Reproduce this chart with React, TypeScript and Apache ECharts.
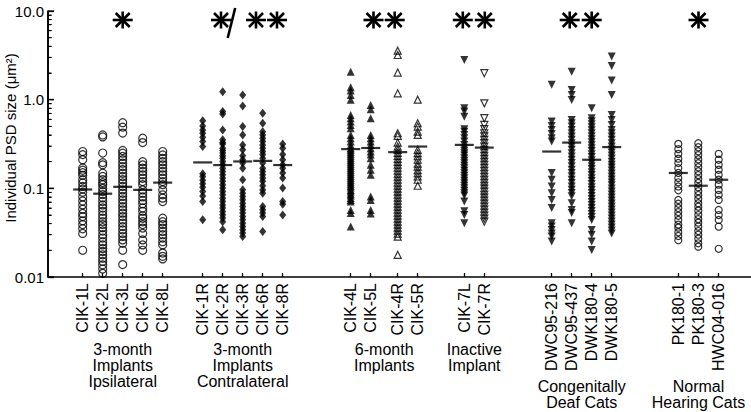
import React, { useEffect, useRef } from 'react';
import * as echarts from 'echarts';

// ---------------- data ----------------
const categories = [
  'CIK-1L', 'CIK-2L', 'CIK-3L', 'CIK-6L', 'CIK-8L',
  'CIK-1R', 'CIK-2R', 'CIK-3R', 'CIK-6R', 'CIK-8R',
  'CIK-4L', 'CIK-5L', 'CIK-4R', 'CIK-5R',
  'CIK-7L', 'CIK-7R',
  'DWC95-216', 'DWC95-437', 'DWK180-4', 'DWK180-5',
  'PK180-1', 'PK180-3', 'HWC04-016',
];

const groupLabels = [
  '3-month\nImplants\nIpsilateral',
  '3-month\nImplants\nContralateral',
  '6-month\nImplants',
  'Inactive\nImplant',
  'Congenitally\nDeaf Cats',
  'Normal\nHearing Cats',
];
const groupMembers = [[0, 1, 2, 3, 4], [5, 6, 7, 8, 9], [10, 11, 12, 13], [14, 15], [16, 17, 18, 19], [20, 21, 22]];
const significance = ['*', '*/**', '**', '**', '**', '*'];

const yTickValues = [0.01, 0.1, 1, 10];
const yTickLabels = ['0.01', '0.1', '1.0', '10.0'];

const means = [0.097, 0.087, 0.104, 0.096, 0.116, 0.196, 0.183, 0.201, 0.204, 0.183, 0.277, 0.285, 0.256, 0.296, 0.309, 0.288, 0.26, 0.328, 0.21, 0.292, 0.149, 0.107, 0.125];

const cik1L = [0.26, 0.24, 0.21, 0.17, 0.16, 0.15, 0.14, 0.125, 0.115, 0.105, 0.098, 0.09, 0.08, 0.072, 0.065, 0.058, 0.052, 0.048, 0.043, 0.039, 0.035, 0.031, 0.02];
const cik2L = [0.4, 0.38, 0.25, 0.195, 0.184, 0.148, 0.136, 0.125, 0.116, 0.11, 0.1, 0.092, 0.085, 0.078, 0.071, 0.065, 0.06, 0.055, 0.05, 0.046, 0.042, 0.039, 0.036, 0.033, 0.03, 0.0275, 0.025, 0.023, 0.021, 0.0194, 0.0178, 0.0163, 0.015, 0.0137, 0.0123, 0.011];
const cik3L = [0.55, 0.49, 0.42, 0.267, 0.249, 0.229, 0.21, 0.192, 0.176, 0.162, 0.148, 0.136, 0.125, 0.115, 0.105, 0.096, 0.088, 0.081, 0.074, 0.068, 0.062, 0.057, 0.0525, 0.048, 0.044, 0.0405, 0.037, 0.034, 0.031, 0.0286, 0.0262, 0.024, 0.02, 0.0138];
const cik6L = [0.367, 0.328, 0.2, 0.184, 0.169, 0.155, 0.142, 0.13, 0.119, 0.11, 0.096, 0.088, 0.08, 0.073, 0.067, 0.06, 0.055, 0.049, 0.046, 0.042, 0.039, 0.0356, 0.031, 0.0262, 0.023, 0.02];
const cik8L = [0.26, 0.238, 0.218, 0.2, 0.184, 0.169, 0.155, 0.142, 0.13, 0.119, 0.11, 0.096, 0.0845, 0.0775, 0.071, 0.046, 0.042, 0.039, 0.0356, 0.0326, 0.03, 0.0275, 0.025, 0.023, 0.0186, 0.0171, 0.016];

const cik1R = [0.58, 0.506, 0.456, 0.418, 0.377, 0.337, 0.296, 0.146, 0.136, 0.123, 0.113, 0.103, 0.092, 0.082, 0.071, 0.0442];
const cik2R = [1.23, 0.734, 0.691, 0.456, 0.352, 0.328, 0.317, 0.284, 0.267, 0.25, 0.233, 0.219, 0.201, 0.184, 0.169, 0.155, 0.142, 0.131, 0.12, 0.11, 0.101, 0.092, 0.0845, 0.0775, 0.071, 0.065, 0.06, 0.0548, 0.0503, 0.0462, 0.042, 0.0341];
const cik3R = [1.13, 0.851, 0.497, 0.4, 0.309, 0.272, 0.233, 0.21, 0.193, 0.169, 0.125, 0.0963, 0.088, 0.081, 0.0742, 0.068, 0.0625, 0.0573, 0.0526, 0.0482, 0.0442, 0.0405, 0.0372, 0.0341, 0.0313, 0.0287];
const cik6R = [0.704, 0.542, 0.436, 0.4, 0.368, 0.337, 0.309, 0.284, 0.26, 0.24, 0.219, 0.193, 0.169, 0.155, 0.142, 0.131, 0.12, 0.107, 0.096, 0.088, 0.0625, 0.0573, 0.0526, 0.0482, 0.0327];
const cik8R = [0.317, 0.284, 0.24, 0.21, 0.184, 0.169, 0.149, 0.131, 0.101, 0.071, 0.066, 0.05];

const cik4L = [2.07, 1.38, 1.265, 1.13, 1.0, 0.673, 0.618, 0.566, 0.519, 0.476, 0.4, 0.368, 0.337, 0.309, 0.284, 0.272, 0.258, 0.245, 0.233, 0.221, 0.21, 0.199, 0.189, 0.18, 0.171, 0.162, 0.154, 0.146, 0.139, 0.132, 0.125, 0.119, 0.113, 0.107, 0.102, 0.096, 0.092, 0.087, 0.083, 0.078, 0.074, 0.071, 0.057, 0.0526, 0.037];
const cik5L = [0.87, 0.78, 0.618, 0.4, 0.368, 0.337, 0.309, 0.284, 0.26, 0.24, 0.219, 0.184, 0.162, 0.142, 0.081, 0.074, 0.057, 0.052];
const cik4R = [3.57, 3.19, 2.02, 1.18, 0.418, 0.391, 0.328, 0.296, 0.272, 0.2516, 0.2328, 0.2154, 0.1993, 0.1844, 0.1706, 0.1578, 0.146, 0.1351, 0.125, 0.1156, 0.107, 0.099, 0.0916, 0.0847, 0.0784, 0.0725, 0.0671, 0.0621, 0.0574, 0.0531, 0.0492, 0.0455, 0.0421, 0.0389, 0.036, 0.0333, 0.0308, 0.0285, 0.0178];
const cik5R = [1.0, 0.542, 0.497, 0.436, 0.4, 0.272, 0.25, 0.23, 0.21, 0.19, 0.176, 0.16, 0.148, 0.136, 0.125, 0.107];

const cik7L = [2.8, 0.8, 0.734, 0.64, 0.465, 0.436, 0.4, 0.368, 0.337, 0.309, 0.284, 0.266, 0.249, 0.234, 0.219, 0.205, 0.192, 0.18, 0.169, 0.158, 0.148, 0.139, 0.13, 0.122, 0.114, 0.107, 0.1, 0.094, 0.088, 0.083, 0.071, 0.055, 0.05, 0.0405];
const cik7R = [1.99, 0.91, 0.618, 0.519, 0.465, 0.418, 0.385, 0.352, 0.323, 0.296, 0.272, 0.2516, 0.2328, 0.2154, 0.1993, 0.1844, 0.1706, 0.1578, 0.146, 0.1351, 0.125, 0.1156, 0.107, 0.099, 0.0916, 0.0847, 0.0784, 0.0725, 0.0671, 0.0621, 0.0574, 0.0531, 0.0492, 0.0455, 0.0421];

const dwc216 = [1.47, 0.566, 0.506, 0.456, 0.41, 0.368, 0.337, 0.149, 0.125, 0.105, 0.088, 0.074, 0.06, 0.0405, 0.037, 0.034, 0.031, 0.0287, 0.0252];
const dwc437 = [2.07, 1.288, 1.13, 0.993, 0.591, 0.542, 0.497, 0.456, 0.418, 0.385, 0.352, 0.323, 0.296, 0.272, 0.249, 0.229, 0.21, 0.193, 0.177, 0.162, 0.149, 0.137, 0.125, 0.115, 0.105, 0.0966, 0.0886, 0.0813, 0.068, 0.057, 0.0526, 0.0405];
const dwk4 = [0.8, 0.618, 0.572, 0.529, 0.489, 0.453, 0.419, 0.387, 0.358, 0.332, 0.307, 0.284, 0.263, 0.243, 0.225, 0.208, 0.192, 0.178, 0.165, 0.152, 0.141, 0.13, 0.121, 0.112, 0.103, 0.0955, 0.0884, 0.0817, 0.0756, 0.07, 0.0647, 0.0599, 0.0554, 0.0512, 0.0474, 0.0439, 0.034, 0.03, 0.0252, 0.0202];
const dwk5 = [3.06, 2.4, 1.64, 1.13, 0.673, 0.591, 0.519, 0.456, 0.418, 0.385, 0.352, 0.323, 0.296, 0.274, 0.253, 0.234, 0.217, 0.2, 0.185, 0.172, 0.159, 0.147, 0.136, 0.126, 0.116, 0.108, 0.0996, 0.0921, 0.0852, 0.0789, 0.073, 0.0675, 0.0625, 0.0578, 0.0534, 0.0494, 0.0457, 0.0423, 0.0391, 0.0362, 0.0335, 0.031];

const pk1 = [0.317, 0.277, 0.245, 0.216, 0.193, 0.169, 0.149, 0.131, 0.117, 0.105, 0.095, 0.074, 0.067, 0.06, 0.054, 0.049, 0.044, 0.039, 0.036, 0.032, 0.029, 0.026];
const pk3 = [0.323, 0.291, 0.262, 0.237, 0.213, 0.192, 0.173, 0.156, 0.141, 0.127, 0.115, 0.103, 0.093, 0.084, 0.076, 0.068, 0.062, 0.056, 0.05, 0.045, 0.041, 0.037, 0.033, 0.03, 0.027, 0.024, 0.022];
const hwc = [0.245, 0.21, 0.184, 0.162, 0.142, 0.125, 0.11, 0.096, 0.0845, 0.074, 0.057, 0.05, 0.044, 0.037, 0.0208];

const seriesValues = [
  cik1L, cik2L, cik3L, cik6L, cik8L,
  cik1R, cik2R, cik3R, cik6R, cik8R,
  cik4L, cik5L, cik4R, cik5R,
  cik7L, cik7R,
  dwc216, dwc437, dwk4, dwk5,
  pk1, pk3, hwc,
];

// ---------------- layout / style ----------------
const xSlots = [0, 1, 2, 3, 4, 6, 7, 8, 9, 10, 13.4, 14.4, 15.75, 16.75, 19.08, 20.08, 23.45, 24.45, 25.45, 26.45, 29.78, 30.78, 31.8];
const X_MIN = -1.735;
const X_MAX = 33.415;

type Mk = { symbol: string; size: number | number[]; filled: boolean; rotate?: number };
const markerFor = (i: number): Mk => {
  if (i <= 4) return { symbol: 'circle', size: 8, filled: false };
  if (i <= 9) return { symbol: 'diamond', size: [7, 9], filled: true };
  if (i === 10 || i === 11) return { symbol: 'triangle', size: 8, filled: true };
  if (i === 12 || i === 13) return { symbol: 'triangle', size: 7, filled: false };
  if (i === 14) return { symbol: 'triangle', size: 8, filled: true, rotate: 180 };
  if (i === 15) return { symbol: 'triangle', size: 7, filled: false, rotate: 180 };
  if (i <= 19) return { symbol: 'triangle', size: 8, filled: true, rotate: 180 };
  return { symbol: 'circle', size: 7, filled: false };
};

const starOffsets = [[0], [-21.7, 13.3, 34.3], [-10.7, 10.5], [-11.5, 10.5], [-12, 10], [0]];
const FONT = "'Liberation Sans', Arial, Helvetica, sans-serif";

const minorTickValues: number[] = [];
[0.01, 0.1, 1].forEach((d) => {
  for (let m = 2; m <= 9; m++) minorTickValues.push(+(m * d).toFixed(4));
});

function starGraphic(cx: number, cy: number) {
  const ls = { stroke: '#000', lineWidth: 2.6 };
  return {
    type: 'group',
    children: [
      { type: 'line', shape: { x1: cx - 10, y1: cy, x2: cx + 10, y2: cy }, style: ls },
      { type: 'line', shape: { x1: cx, y1: cy - 8.5, x2: cx, y2: cy + 8.5 }, style: ls },
      { type: 'line', shape: { x1: cx - 7, y1: cy - 7, x2: cx + 7, y2: cy + 7 }, style: ls },
      { type: 'line', shape: { x1: cx - 7, y1: cy + 7, x2: cx + 7, y2: cy - 7 }, style: ls },
    ],
  };
}

export default function App() {
  const ref = useRef<HTMLDivElement>(null);

  useEffect(() => {
    if (!ref.current) return;
    const chart = echarts.init(ref.current, null, { renderer: 'svg' });

    const series: any[] = seriesValues.map((vals, i) => {
      const mk = markerFor(i);
      return {
        type: 'scatter',
        name: categories[i],
        symbol: mk.symbol,
        symbolSize: mk.size,
        symbolRotate: mk.rotate || 0,
        itemStyle: mk.filled
          ? { color: '#000' }
          : { color: 'rgba(255,255,255,0)', borderColor: '#000', borderWidth: 1.2 },
        data: vals.map((v) => [xSlots[i], v]),
        silent: true,
      };
    });
    series.push({
      type: 'scatter',
      name: 'mean',
      symbol: 'rect',
      symbolSize: [19, 2.2],
      itemStyle: { color: '#000' },
      data: means.map((m, i) => [xSlots[i], m]),
      z: 5,
      silent: true,
    });
    // y-axis spine drawn through the scales as a safety net
    series.push({
      type: 'line',
      name: 'spine',
      symbol: 'none',
      clip: false,
      silent: true,
      z: 20,
      lineStyle: { color: '#000', width: 1.6 },
      data: [[X_MIN, 0.01], [X_MIN, 10]],
    });

    chart.setOption({
      animation: false,
      backgroundColor: '#fff',
      grid: { left: 48, right: 0, top: 11, bottom: 135, containLabel: false },
      xAxis: {
        type: 'value',
        min: X_MIN,
        max: X_MAX,
        splitLine: { show: false },
        axisLine: { show: true, onZero: false, lineStyle: { color: '#000', width: 1.6 } },
        axisTick: { show: true, inside: true, length: 4, customValues: xSlots, lineStyle: { color: '#000', width: 1.3 } },
        axisLabel: {
          customValues: xSlots,
          rotate: 90,
          margin: 6,
          color: '#000',
          fontSize: 16,
          fontFamily: FONT,
          formatter: (v: number) => {
            const idx = xSlots.findIndex((s) => Math.abs(s - v) < 1e-6);
            return idx >= 0 ? categories[idx] : '';
          },
        },
      },
      yAxis: {
        type: 'log',
        logBase: 10,
        min: 0.01,
        max: 10,
        splitLine: { show: false },
        minorSplitLine: { show: false },
        axisLine: { show: true, onZero: false, lineStyle: { color: '#000', width: 1.6 } },
        axisTick: { show: true, inside: true, length: 6, lineStyle: { color: '#000', width: 1.3 } },
        minorTick: { show: true, splitNumber: 9, length: 3.5, lineStyle: { color: '#000', width: 1 } },
        axisLabel: {
          margin: 4,
          color: '#000',
          fontSize: 15,
          fontFamily: FONT,
          formatter: (v: number) => {
            const idx = yTickValues.findIndex((t) => Math.abs(Math.log10(t) - Math.log10(v)) < 1e-6);
            return idx >= 0 ? yTickLabels[idx] : '';
          },
        },
      },
      series,
    });

    const graphics: any[] = [];
    const axisX = chart.convertToPixel({ xAxisIndex: 0 }, X_MIN) as number;
    yTickValues.forEach((v) => {
      const py = chart.convertToPixel({ yAxisIndex: 0 }, v) as number;
      graphics.push({ type: 'line', z: 10, shape: { x1: axisX, y1: py, x2: axisX + 6, y2: py }, style: { stroke: '#000', lineWidth: 1.3 } });
    });
    minorTickValues.forEach((v) => {
      const py = chart.convertToPixel({ yAxisIndex: 0 }, v) as number;
      graphics.push({ type: 'line', z: 10, shape: { x1: axisX, y1: py, x2: axisX + 3.5, y2: py }, style: { stroke: '#000', lineWidth: 1 } });
    });

    groupMembers.forEach((mem, g) => {
      const center = (xSlots[mem[0]] + xSlots[mem[mem.length - 1]]) / 2;
      const cx = chart.convertToPixel({ xAxisIndex: 0 }, center) as number;
      graphics.push({
        type: 'text',
        x: cx,
        y: g >= 4 ? 378 : 341,
        style: {
          text: groupLabels[g],
          align: 'center',
          verticalAlign: 'top',
          fill: '#000',
          font: `16px ${FONT}`,
          lineHeight: 16.3,
        },
      });
      starOffsets[g].forEach((off) => graphics.push(starGraphic(cx + off, 20)));
      if (significance[g].includes('/')) {
        graphics.push({
          type: 'line',
          shape: { x1: cx - 15, y1: 38, x2: cx - 7.5, y2: 8 },
          style: { stroke: '#000', lineWidth: 2.6 },
        });
      }
    });
    graphics.push({
      type: 'text',
      x: 10,
      y: 138,
      rotation: Math.PI / 2,
      style: {
        text: 'Individual PSD size (μm²)',
        align: 'center',
        verticalAlign: 'middle',
        fill: '#000',
        font: `15px ${FONT}`,
      },
    });
    chart.setOption({ graphic: graphics });

    return () => chart.dispose();
  }, []);

  return (
    <div
      ref={ref}
      style={{ position: 'absolute', left: 0, top: 0, width: 751, height: 412, background: '#fff' }}
    />
  );
}
